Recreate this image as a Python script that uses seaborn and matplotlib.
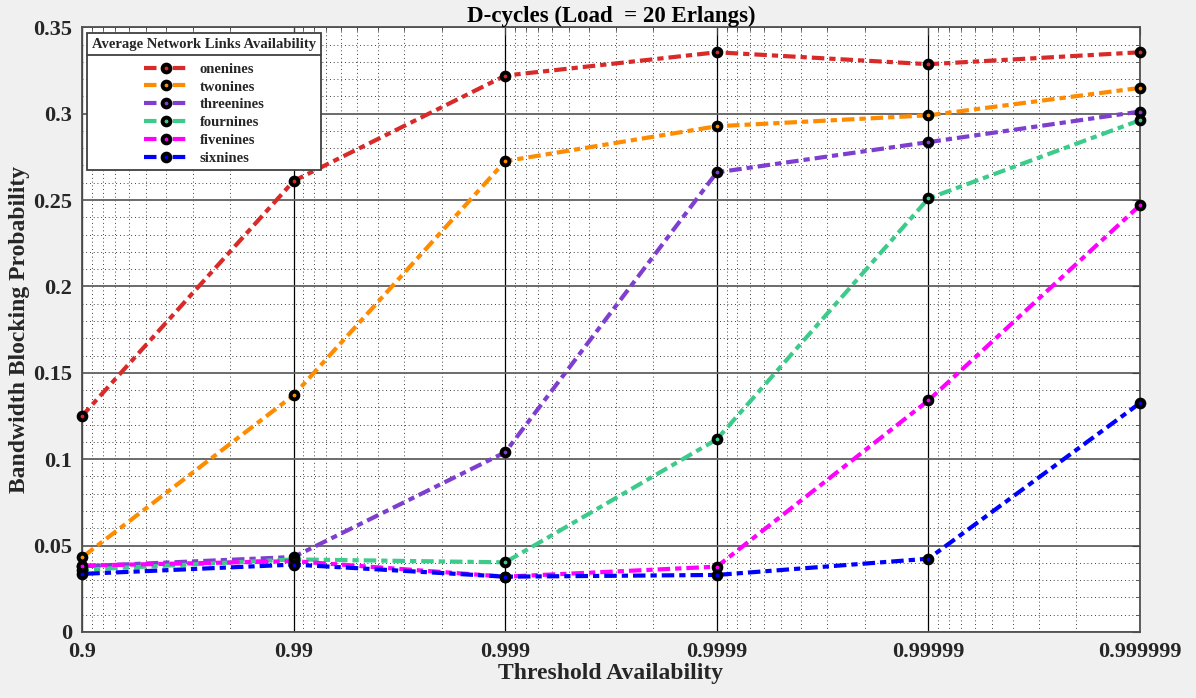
import matplotlib
matplotlib.use('Agg')
import matplotlib.pyplot as plt
import seaborn as sns
import pandas as pd
import numpy as np
from matplotlib.lines import Line2D
from matplotlib.ticker import FixedLocator, LogLocator, MultipleLocator, FuncFormatter, NullFormatter

# threshold availability and the matching unavailability (1 - a) used for the log axis
threshold_labels = ['0.9', '0.99', '0.999', '0.9999', '0.99999', '0.999999']
unavailability = [1e-1, 1e-2, 1e-3, 1e-4, 1e-5, 1e-6]

series_names = ['onenines', 'twonines', 'threenines', 'fournines', 'fivenines', 'sixnines']

onenines = [0.125, 0.261, 0.322, 0.3355, 0.3286, 0.3355]
twonines = [0.0432, 0.137, 0.2725, 0.2927, 0.299, 0.3149]
threenines = [0.0380, 0.0434, 0.104, 0.266, 0.2835, 0.3012]
fournines = [0.0360, 0.0420, 0.0403, 0.1115, 0.2509, 0.2962]
fivenines = [0.0384, 0.0410, 0.0320, 0.0378, 0.134, 0.247]
sixnines = [0.0336, 0.0390, 0.0320, 0.0330, 0.0424, 0.1325]

colors = ['#d92a2a', '#ff8c00', '#7e3fd0', '#3ccb8a', '#ff00ff', '#0000ff']

values = [onenines, twonines, threenines, fournines, fivenines, sixnines]
df = pd.DataFrame({
    'u': unavailability * len(series_names),
    'bbp': np.concatenate(values),
    'series': np.repeat(series_names, len(unavailability)),
})

sns.set_style('white')
plt.rcParams['font.family'] = ['Liberation Serif', 'DejaVu Serif']
plt.rcParams['font.weight'] = 'bold'

fig = plt.figure(figsize=(11.96, 6.98), dpi=100, facecolor='#f0f0f0')
ax = fig.add_axes([0.0686, 0.0946, 0.8846, 0.8664])
ax.set_facecolor('white')

sns.lineplot(
    data=df, x='u', y='bbp', hue='series', style='series',
    hue_order=series_names, style_order=series_names,
    palette=dict(zip(series_names, colors)),
    dashes={s: (3, 1.2, 1.5, 1.2) for s in series_names},
    markers={s: 'o' for s in series_names},
    markersize=5.6, markeredgecolor='black', markeredgewidth=2.8,
    linewidth=3, ax=ax, clip_on=False, zorder=3,
)

ax.set_xscale('log')
ax.set_xlim(1e-1, 1e-6)
ax.set_ylim(0, 0.35)

ax.xaxis.set_major_locator(FixedLocator(unavailability))
ax.xaxis.set_major_formatter(FuncFormatter(
    lambda v, p: threshold_labels[int(round(-np.log10(v))) - 1] if 1 <= round(-np.log10(v)) <= 6 else ''))
ax.xaxis.set_minor_locator(LogLocator(base=10, subs=np.arange(2, 10)))
ax.xaxis.set_minor_formatter(NullFormatter())
ax.yaxis.set_major_locator(MultipleLocator(0.05))
ax.yaxis.set_minor_locator(MultipleLocator(0.01))
ax.yaxis.set_major_formatter(FuncFormatter(lambda v, p: f'{v:g}'))

ax.grid(axis='x', which='major', color='black', linewidth=0.9, linestyle='-')
ax.grid(axis='y', which='major', color='#606060', linewidth=1.3, linestyle='-')
ax.grid(which='minor', color='black', linewidth=0.6, linestyle=(0, (1, 3.5)))
ax.set_axisbelow(True)

ax.tick_params(which='both', direction='in', top=True, right=True, color='#404040')
ax.tick_params(which='major', length=6, labelsize=16)
ax.tick_params(axis='y', which='major', pad=7)
ax.tick_params(axis='x', which='major', pad=7)
ax.tick_params(which='minor', length=3)
for lbl in ax.get_xticklabels() + ax.get_yticklabels():
    lbl.set_fontweight('bold')
    lbl.set_color('#262626')
for sp in ax.spines.values():
    sp.set_color('#505050')
    sp.set_linewidth(1.3)

ax.set_xlabel('Threshold Availability', fontsize=17, fontweight='bold', color='#262626', labelpad=1)
ax.set_ylabel('Bandwidth Blocking Probability', fontsize=17, fontweight='bold', color='#262626', labelpad=2.5)
ax.set_title('D-cycles (Load  = 20 Erlangs)', fontsize=16.5, fontweight='bold', color='black', pad=4)

leg = ax.legend(
    title='Average Network Links Availability', loc='upper left',
    bbox_to_anchor=(0.0047, 0.990), borderaxespad=0, fancybox=False,
    edgecolor='#404040', framealpha=1, prop={'size': 10.5, 'weight': 'bold'},
    handlelength=3, labelspacing=0.32, borderpad=0.35, alignment='center',
)
leg.get_title().set_fontsize(10.5)
leg.get_title().set_fontweight('bold')
leg.get_frame().set_linewidth(1.3)
# extra room between the title and the entries
leg._legend_box.sep = 8

# thin rule under the legend title, like the source figure
fig.canvas.draw()
renderer = fig.canvas.get_renderer()
frame_box = leg.get_frame().get_window_extent(renderer)
title_box = leg.get_title().get_window_extent(renderer)
inv = fig.transFigure.inverted()
y_rule = title_box.y0 - 4
(x0, y0) = inv.transform((frame_box.x0, y_rule))
(x1, _) = inv.transform((frame_box.x1, y_rule))
fig.add_artist(Line2D([x0, x1], [y0, y0], color='#404040', linewidth=1.3, zorder=10))

fig.savefig('out.png', dpi=100, facecolor=fig.get_facecolor())
